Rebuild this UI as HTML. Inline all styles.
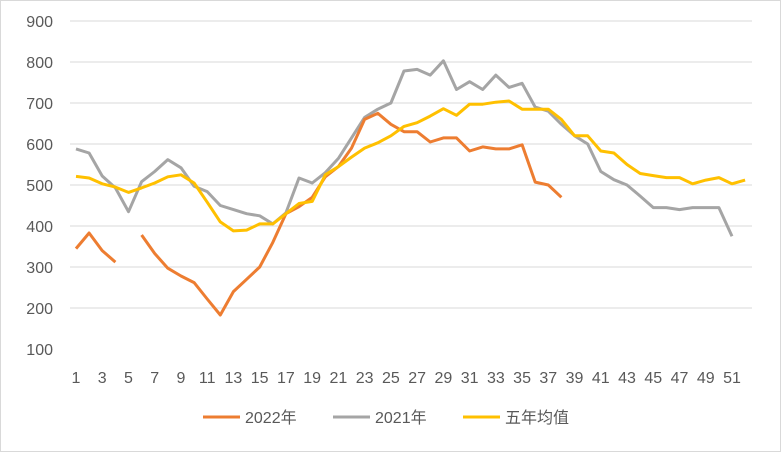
<!DOCTYPE html>
<html><head><meta charset="utf-8"><style>
body{margin:0;background:#fff;}
svg{display:block;font-family:"Liberation Sans","Noto Sans CJK SC",sans-serif;}
</style></head><body>
<svg width="781" height="452">
<rect x="0.5" y="0.5" width="780" height="451" fill="#fff" stroke="#d9d9d9"/>
<g id="grid"></g><g id="yt"></g><g id="xt"></g><g id="series"></g>
<g>
<g><line x1="203" y1="417" x2="240" y2="417" stroke="#ED7D31" stroke-width="3"/><text x="245" y="423" font-size="16" fill="#595959">2022年</text></g>
<g><line x1="333" y1="417" x2="370" y2="417" stroke="#A5A5A5" stroke-width="3"/><text x="375" y="423" font-size="16" fill="#595959">2021年</text></g>
<g><line x1="463" y1="417" x2="500" y2="417" stroke="#FFC000" stroke-width="3"/><text x="505" y="423" font-size="16" fill="#595959">五年均值</text></g>
</g>
</svg>
<script>
const yTicks=[100,200,300,400,500,600,700,800,900];
const s2022=[345,383,340,312,null,378,333,297,278,262,222,183,240,270,300,360,430,447,470,520,545,590,660,675,648,630,630,605,615,615,583,593,588,588,598,507,500,470];
const s2021=[588,578,522,493,435,508,533,562,542,497,484,450,440,430,425,405,432,517,505,530,565,615,665,685,700,778,782,768,803,733,752,733,768,738,748,690,680,648,620,600,533,513,500,473,445,445,440,445,445,445,375];
const s5yr=[521,517,503,495,482,493,505,520,525,505,458,410,388,390,405,405,430,455,460,525,545,568,590,603,620,643,652,668,686,670,697,697,702,705,685,685,685,660,620,620,583,578,550,528,523,518,518,503,512,518,503,512];
const NS="http://www.w3.org/2000/svg";
const X=w=>76+(w-1)*13.12;
const Y=v=>349-(v-100)*0.41;
const grid=document.getElementById('grid'),yt=document.getElementById('yt'),xt=document.getElementById('xt'),ser=document.getElementById('series');
yTicks.forEach(v=>{
 if(v>100){const l=document.createElementNS(NS,'line');
 
 
 l.setAttribute('x1',70);l.setAttribute('x2',752);l.setAttribute('y1',Y(v));l.setAttribute('y2',Y(v));l.setAttribute('stroke','#d9d9d9');l.setAttribute('stroke-width','1');grid.appendChild(l);}
 const t=document.createElementNS(NS,'text');
 
 
 t.setAttribute('x',53);t.setAttribute('y',Y(v)+6);t.setAttribute('text-anchor','end');t.setAttribute('font-size','16');t.setAttribute('fill','#595959');t.textContent=v;yt.appendChild(t);
});
for(let w=1;w<=51;w+=2){const t=document.createElementNS(NS,'text');
 
 
 t.setAttribute('x',X(w));t.setAttribute('y',383);t.setAttribute('text-anchor','middle');t.setAttribute('font-size','16');t.setAttribute('fill','#595959');t.textContent=w;xt.appendChild(t);}
function draw(arr,color,name){let d='',pen=false;
 arr.forEach((v,i)=>{if(v==null){pen=false;return;}d+=(pen?'L':'M')+X(i+1).toFixed(1)+' '+Y(v).toFixed(1)+' ';pen=true;});
 const p=document.createElementNS(NS,'path');
 
 
 p.setAttribute('d',d);p.setAttribute('fill','none');p.setAttribute('stroke',color);p.setAttribute('stroke-width','3');p.setAttribute('stroke-linejoin','round');ser.appendChild(p);}
draw(s2021,'#A5A5A5','line-2021');
draw(s2022,'#ED7D31','line-2022');
draw(s5yr,'#FFC000','line-5yr-avg');
</script>
</body></html>
